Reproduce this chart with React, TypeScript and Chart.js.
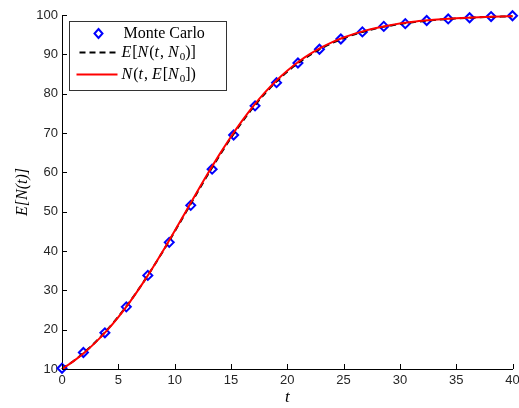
import React, { useEffect, useRef } from "react";
import { Chart, registerables } from "chart.js";

Chart.register(...registerables);

// ---- data ----
const tLine = [
  0, 1, 2, 3, 4, 5, 6, 7, 8, 9, 10, 11, 12, 13, 14, 15, 16, 17, 18, 19, 20,
  21, 22, 23, 24, 25, 26, 27, 28, 29, 30, 31, 32, 33, 34, 35, 36, 37, 38, 39, 40,
];
// N(t, E[N0]) (red solid)
const nAtMeanInit = [
  10.0, 11.95, 14.22, 16.84, 19.82, 23.2, 26.95, 31.07, 35.5, 40.19, 45.09,
  50.07, 55.06, 59.94, 64.63, 69.06, 73.15, 76.9, 80.27, 83.24, 85.85, 88.11,
  90.03, 91.69, 93.1, 94.28, 95.27, 96.09, 96.78, 97.34, 97.82, 98.21, 98.52,
  98.79, 99.01, 99.19, 99.33, 99.45, 99.55, 99.63, 99.7,
];
// E[N(t, N0)] (black dashed)
const nExpected = [
  10.0, 11.98, 14.28, 16.93, 19.93, 23.3, 27.03, 31.1, 35.48, 40.1, 44.93,
  49.85, 54.8, 59.65, 64.32, 68.75, 72.85, 76.6, 79.98, 82.96, 85.58, 87.86,
  89.8, 91.48, 92.9, 94.1, 95.1, 95.94, 96.65, 97.22, 97.71, 98.11, 98.43,
  98.71, 98.94, 99.12, 99.27, 99.4, 99.5, 99.59, 99.66,
];
// Monte Carlo samples
const tMC = [
  0, 1.9, 3.81, 5.71, 7.62, 9.52, 11.43, 13.33, 15.24, 17.14, 19.05, 20.95,
  22.86, 24.76, 26.67, 28.57, 30.48, 32.38, 34.29, 36.19, 38.1, 40.0,
];
const nMC = [
  10.2, 14.2, 19.2, 25.8, 33.8, 42.2, 51.6, 60.8, 69.5, 76.9, 82.8, 87.8,
  91.3, 93.9, 95.7, 97.1, 97.8, 98.6, 99.0, 99.3, 99.6, 99.8,
];

const xMin = 0;
const xMax = 40;
const xStep = 5;
const yMin = 10;
const yMax = 100;
const yStep = 10;

type Seg = { s: string; it?: boolean; sub?: boolean };
const legendMC: Seg[] = [{ s: "Monte Carlo" }];
const legendExpected: Seg[] = [
  { s: "E", it: true }, { s: "[" }, { s: "N", it: true }, { s: "(" },
  { s: "t", it: true }, { s: ", " }, { s: "N", it: true }, { s: "0", sub: true },
  { s: ")]" },
];
const legendMeanInit: Seg[] = [
  { s: "N", it: true }, { s: "(" }, { s: "t", it: true }, { s: ", " },
  { s: "E", it: true }, { s: "[" }, { s: "N", it: true }, { s: "0", sub: true },
  { s: "])" },
];
const xTitle = "t";
const yTitle = "E[N(t)]";

const SERIF = "'Liberation Serif', 'DejaVu Serif', serif";
const SANS = "'Liberation Sans', Arial, sans-serif";

function drawRich(ctx: CanvasRenderingContext2D, segs: Seg[], x: number, y: number, size: number) {
  let cx = x;
  ctx.textBaseline = "middle";
  ctx.textAlign = "left";
  for (const g of segs) {
    if (g.sub) {
      ctx.font = `${Math.round(size * 0.7)}px ${SERIF}`;
      ctx.fillText(g.s, cx, y + size * 0.28);
    } else {
      ctx.font = `${g.it ? "italic " : ""}${size}px ${SERIF}`;
      ctx.fillText(g.s, cx, y);
    }
    cx += ctx.measureText(g.s).width + (g.it ? 1 : 0);
  }
}

const inwardTicks = {
  id: "inwardTicks",
  afterDatasetsDraw(chart: any) {
    const { ctx, chartArea, scales } = chart;
    ctx.save();
    ctx.strokeStyle = "#000";
    ctx.lineWidth = 1;
    ctx.beginPath();
    for (const t of scales.x.ticks) {
      const px = Math.round(scales.x.getPixelForValue(t.value)) + 0.5;
      ctx.moveTo(px, chartArea.bottom);
      ctx.lineTo(px, chartArea.bottom - 5);
    }
    for (const t of scales.y.ticks) {
      const py = Math.round(scales.y.getPixelForValue(t.value)) + 0.5;
      ctx.moveTo(chartArea.left, py);
      ctx.lineTo(chartArea.left + 5, py);
    }
    ctx.stroke();
    ctx.restore();
  },
};

const customLegend = {
  id: "customLegend",
  afterDraw(chart: any) {
    const { ctx, chartArea } = chart;
    const bx = chartArea.left + 7.5;
    const by = chartArea.top + 6.5;
    const bw = 157;
    const bh = 69;
    ctx.save();
    ctx.fillStyle = "#fff";
    ctx.fillRect(bx, by, bw, bh);
    ctx.strokeStyle = "#333";
    ctx.lineWidth = 1;
    ctx.strokeRect(bx, by, bw, bh);

    // Monte Carlo marker
    const r = 4;
    const mx = bx + 29;
    const my = by + 12;
    ctx.beginPath();
    ctx.moveTo(mx, my - r - 0.5);
    ctx.lineTo(mx + r, my);
    ctx.lineTo(mx, my + r + 0.5);
    ctx.lineTo(mx - r, my);
    ctx.closePath();
    ctx.strokeStyle = "#0000ff";
    ctx.lineWidth = 2;
    ctx.stroke();

    // dashed
    ctx.beginPath();
    ctx.setLineDash([6, 4]);
    ctx.strokeStyle = "#000";
    ctx.lineWidth = 2;
    ctx.moveTo(bx + 10, by + 31);
    ctx.lineTo(bx + 48, by + 31);
    ctx.stroke();
    ctx.setLineDash([]);

    // red
    ctx.beginPath();
    ctx.strokeStyle = "#ff0000";
    ctx.lineWidth = 2;
    ctx.moveTo(bx + 7, by + 53);
    ctx.lineTo(bx + 48, by + 53);
    ctx.stroke();

    ctx.fillStyle = "#000";
    drawRich(ctx, legendMC, bx + 54, by + 12, 16);
    drawRich(ctx, legendExpected, bx + 52, by + 31, 16);
    drawRich(ctx, legendMeanInit, bx + 52, by + 53, 16);
    ctx.restore();
  },
};

export default function App() {
  const ref = useRef<HTMLCanvasElement>(null);
  useEffect(() => {
    const canvas = ref.current;
    if (!canvas) return;
    const chart = new Chart(canvas, {
      type: "line",
      data: {
        datasets: [
          {
            label: "N(t, E[N0])",
            data: tLine.map((t, i) => ({ x: t, y: nAtMeanInit[i] })),
            borderColor: "#ff0000",
            borderWidth: 2,
            pointRadius: 0,
            cubicInterpolationMode: "monotone",
            fill: false,
            order: 0,
            clip: false,
          },
          {
            label: "E[N(t, N0)]",
            data: tLine.map((t, i) => ({ x: t, y: nExpected[i] })),
            borderColor: "#000000",
            borderWidth: 2,
            borderDash: [6, 4],
            pointRadius: 0,
            cubicInterpolationMode: "monotone",
            fill: false,
            order: 1,
            clip: false,
          },
          {
            label: "Monte Carlo",
            data: tMC.map((t, i) => ({ x: t, y: nMC[i] })),
            showLine: false,
            pointStyle: "rectRot",
            pointRadius: 4.5,
            pointBorderWidth: 2,
            pointBorderColor: "#0000ff",
            pointBackgroundColor: "rgba(255,255,255,0)",
            borderColor: "#0000ff",
            order: 2,
            clip: false,
          } as any,
        ],
      },
      options: {
        animation: false,
        responsive: true,
        maintainAspectRatio: false,
        layout: { padding: { top: 15, right: 6, left: 0, bottom: 0 } },
        plugins: { legend: { display: false }, tooltip: { enabled: false } },
        scales: {
          x: {
            type: "linear",
            min: xMin,
            max: xMax,
            ticks: {
              stepSize: xStep,
              color: "#262626",
              font: { family: SANS, size: 13 },
              padding: 4,
              maxRotation: 0,
            },
            grid: { display: false, drawTicks: false },
            border: { display: true, color: "#000", width: 1 },
            title: {
              display: true,
              text: xTitle,
              color: "#000",
              font: { family: SERIF, size: 17, style: "italic" },
              padding: { top: 0, bottom: 0 },
            },
            afterFit: (s: any) => {
              s.height = 39;
              s.paddingRight = 0;
              s.paddingLeft = 0;
            },
          },
          y: {
            type: "linear",
            min: yMin,
            max: yMax,
            ticks: {
              stepSize: yStep,
              color: "#262626",
              font: { family: SANS, size: 13 },
              padding: 4,
            },
            grid: { display: false, drawTicks: false },
            border: { display: true, color: "#000", width: 1 },
            title: {
              display: true,
              text: yTitle,
              color: "#000",
              font: { family: SERIF, size: 16, style: "italic" },
              padding: { top: 13, bottom: 0 },
            },
            afterFit: (s: any) => {
              s.width = 62;
            },
          },
        },
      },
      plugins: [inwardTicks, customLegend],
    });
    return () => chart.destroy();
  }, []);
  return (
    <div style={{ position: "absolute", left: 0, top: 0, width: 519, height: 408, background: "#fff" }}>
      <canvas ref={ref} />
    </div>
  );
}
